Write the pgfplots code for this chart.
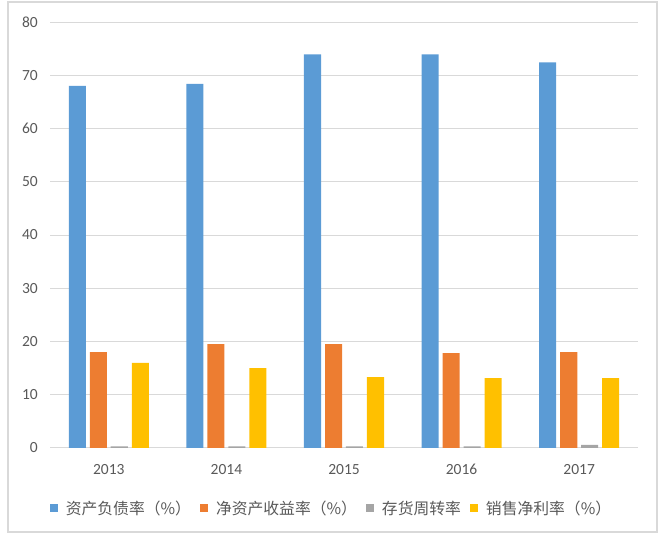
\documentclass[border=0pt]{standalone}
\usepackage{pgfplots}
\pgfplotsset{compat=1.18}
\usepackage{fontspec}
\setmainfont{Carlito}
\newfontfamily\cjk{Noto Sans CJK SC}

\definecolor{cBlue}{HTML}{5B9BD5}
\definecolor{cOrange}{HTML}{ED7D31}
\definecolor{cGray}{HTML}{A5A5A5}
\definecolor{cYellow}{HTML}{FFC000}
\definecolor{gridc}{HTML}{D9D9D9}
\definecolor{txt}{HTML}{595959}

\pgfplotsset{
  sq/.style={legend image code/.code={\fill[##1] (0bp,-4bp) rectangle (8bp,4bp);}}
}

\begin{document}
\begin{tikzpicture}
\useasboundingbox (0,0) rectangle (665bp,541bp);
\draw[gridc, line width=1.2bp] (8bp,9bp) rectangle (657bp,539bp);

\begin{axis}[
    at={(50bp,93bp)}, anchor=south west,
    scale only axis,
    width=588bp, height=426bp,
    ybar, bar width=0.145,
    xmin=-0.5, xmax=4.5,
    ymin=0, ymax=80,
    ytick={0,10,...,80},
    xtick={0,1,2,3,4},
    xticklabels={2013,2014,2015,2016,2017},
    /pgf/number format/assume math mode=true,
    axis line style={draw=none},
    major tick length=0pt,
    ymajorgrids=true,
    grid style={gridc, line width=1bp},
    tick label style={font=\fontsize{15.5bp}{18bp}\selectfont, text=txt, inner sep=0pt},
    yticklabel style={anchor=east, xshift=-12bp},
    xticklabel style={anchor=north, yshift=-16bp},
    legend columns=4,
    legend style={
        at={(0.477,-0.141)}, anchor=center,
        draw=none, fill=none,
        font=\cjk\fontsize{15.8bp}{18bp}\selectfont,
        text=txt,
        nodes={inner sep=0pt},
        /tikz/every odd column/.append style={column sep=8bp},
        /tikz/every even column/.append style={column sep=9bp},
    },
]
% 资产负债率
\addplot[fill=cBlue, draw=none, bar shift=-0.268, sq]
coordinates {(0,68.0) (1,68.4) (2,73.9) (3,73.9) (4,72.4)};
\addlegendentry{资产负债率（\%）}
% 净资产收益率
\addplot[fill=cOrange, draw=none, bar shift=-0.089, sq]
coordinates {(0,18.0) (1,19.5) (2,19.5) (3,17.8) (4,18.0)};
\addlegendentry{净资产收益率（\%）}
% 存货周转率
\addplot[fill=cGray, draw=none, bar shift=0.089, sq]
coordinates {(0,0.3) (1,0.3) (2,0.3) (3,0.3) (4,0.6)};
\addlegendentry{存货周转率}
% 销售净利率
\addplot[fill=cYellow, draw=none, bar shift=0.268, sq]
coordinates {(0,16.0) (1,15.0) (2,13.3) (3,13.1) (4,13.1)};
\addlegendentry{销售净利率（\%）}
\end{axis}
\end{tikzpicture}
\end{document}
